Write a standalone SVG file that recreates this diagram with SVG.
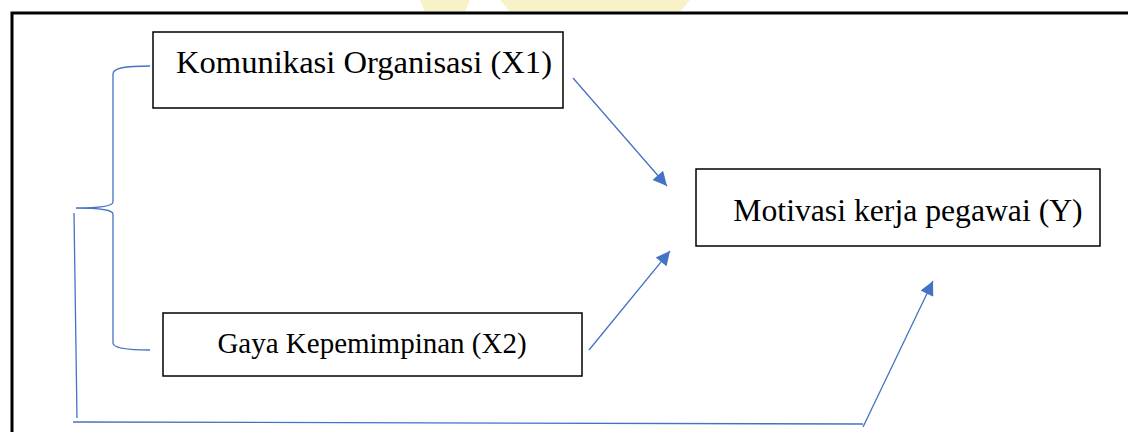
<svg xmlns="http://www.w3.org/2000/svg" width="1128" height="432" viewBox="0 0 1128 432">
<style>
.box{fill:#fff;stroke:#000;stroke-width:1.5}
.t{font-family:"Liberation Serif","Times New Roman",serif;fill:#000}
.c{fill:none;stroke:#4472C4;stroke-width:1.3}
</style>
<defs>
<marker id="ah" viewBox="0 0 10 10" refX="10" refY="5" markerWidth="16" markerHeight="14" markerUnits="userSpaceOnUse" orient="auto">
<path d="M0,0 L10,5 L0,10 Z" fill="#4472C4"/>
</marker>
</defs>
<rect width="1128" height="432" fill="#fff"/>
<g id="watermark" opacity="0.3">
<path d="M420,0 L470,0 L465,12 L425,12 Z M500,0 L690,0 L680,12 L510,12 Z" fill="#e8d34a"/>
</g>
<path d="M12,440 L12,13 L1140,13" fill="none" stroke="#000" stroke-width="3"/>
<g id="connectors">
<path class="c" d="M150,66 C125,66 113,68 113,74 L113,202 C113,206 100,208 76,208 C100,208 113,210 113,214 L113,343 C113,348 125,350 150,350"/>
<path class="c" d="M74,213 L77,418"/>
<path class="c" d="M73,422 L863,424"/>
<path class="c" d="M863,427 L933,281" marker-end="url(#ah)"/>
<path class="c" d="M573,78 L667,186" marker-end="url(#ah)"/>
<path class="c" d="M589,350 L670,251" marker-end="url(#ah)"/>
</g>
<g id="x1">
<rect class="box" x="153" y="32" width="410" height="76"/>
<text class="t" x="364" y="73" font-size="32" text-anchor="middle" textLength="376" lengthAdjust="spacingAndGlyphs">Komunikasi Organisasi (X1)</text>
</g>
<g id="x2">
<rect class="box" x="163" y="313" width="419" height="63"/>
<text class="t" x="372" y="353" font-size="29" text-anchor="middle">Gaya Kepemimpinan (X2)</text>
</g>
<g id="y">
<rect class="box" x="696" y="169" width="404" height="77"/>
<text class="t" x="908" y="221" font-size="31.7" text-anchor="middle">Motivasi kerja pegawai (Y)</text>
</g>
</svg>
